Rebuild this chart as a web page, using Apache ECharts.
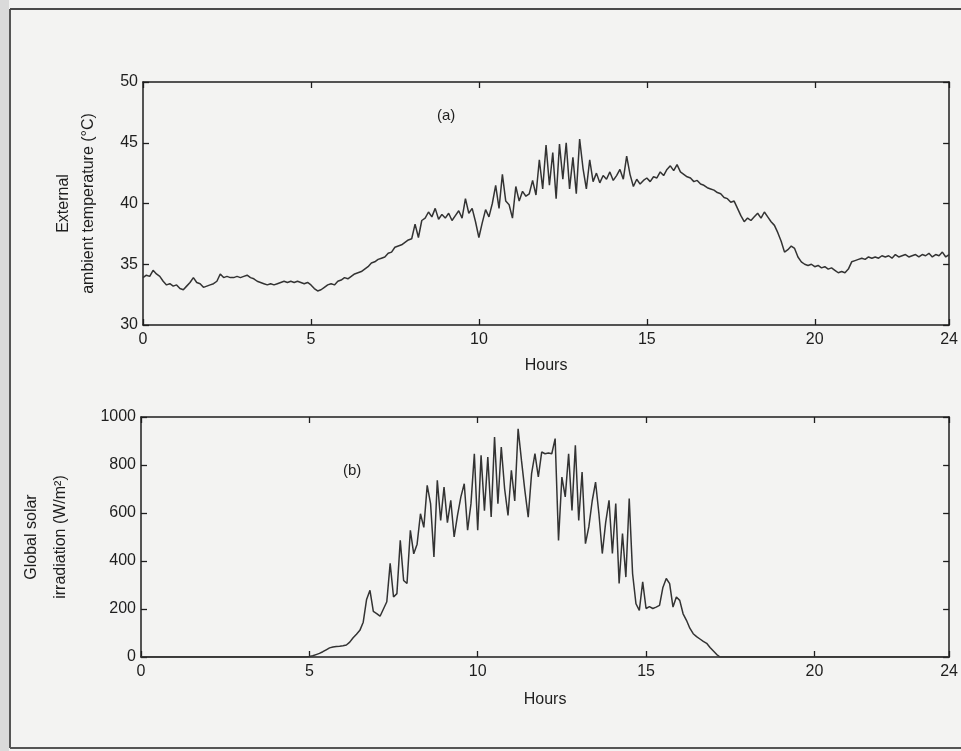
<!DOCTYPE html>
<html><head><meta charset="utf-8">
<script src="https://cdn.jsdelivr.net/npm/echarts@6/dist/echarts.min.js"></script>
<style>html,body{margin:0;padding:0;background:#f3f3f2;} #c{width:961px;height:751px;}</style>
</head><body><div id="c"></div>
<script>
// sampling step of both records (hours)
const hourStep = 0.1;

// (a) External ambient temperature (°C), h = 0.0 ... 24.0
const tempValues = [
 33.9, 34.1, 34.0, 34.5, 34.2, 34.0, 33.6, 33.3, 33.4, 33.2, 33.3,
 33.0, 32.9, 33.2, 33.5, 33.9, 33.5, 33.4, 33.1, 33.2, 33.3,
 33.4, 33.6, 34.2, 33.9, 34.0, 33.9, 33.9, 34.0, 33.9, 34.0,
 34.1, 33.9, 33.8, 33.6, 33.5, 33.4, 33.3, 33.4, 33.3, 33.4,
 33.5, 33.6, 33.5, 33.6, 33.5, 33.6, 33.5, 33.4, 33.5, 33.3,
 33.0, 32.8, 32.9, 33.1, 33.3, 33.4, 33.3, 33.6, 33.7, 33.9,
 33.8, 34.0, 34.2, 34.3, 34.4, 34.6, 34.8, 35.1, 35.2, 35.4,
 35.5, 35.6, 35.9, 36.0, 36.4, 36.5, 36.6, 36.8, 37.0, 37.1,
 38.3, 37.2, 38.6, 38.8, 39.3, 38.9, 39.6, 38.7, 39.1, 38.8,
 39.2, 38.6, 39.0, 39.4, 38.8, 40.4, 39.2, 39.6, 38.5, 37.2,
 38.4, 39.5, 38.9, 40.0, 41.5, 39.6, 42.4, 40.2, 39.9, 38.8,
 41.4, 40.2, 41.0, 40.6, 40.8, 41.9, 40.7, 43.6, 41.2, 44.8,
 41.5, 44.2, 40.4, 44.9, 42.0, 45.0, 41.2, 43.8, 40.8, 45.3,
 42.9, 41.2, 43.6, 41.8, 42.5, 41.7, 42.3, 42.0, 42.6, 41.9,
 42.3, 42.8, 42.0, 43.9, 42.4, 41.4, 42.0, 41.6, 41.9, 42.1,
 41.8, 42.2, 42.1, 42.6, 42.3, 42.8, 43.1, 42.7, 43.2, 42.6,
 42.4, 42.2, 42.1, 41.8, 41.9, 41.6, 41.5, 41.3, 41.2, 41.1,
 40.9, 40.8, 40.5, 40.4, 40.1, 40.2, 39.6, 39.0, 38.5, 38.8,
 38.6, 38.9, 39.2, 38.8, 39.3, 38.9, 38.5, 38.2, 37.6, 36.9,
 36.0, 36.2, 36.5, 36.3, 35.6, 35.2, 35.0, 34.9, 35.0, 34.8,
 34.9, 34.7, 34.8, 34.6, 34.7, 34.5, 34.3, 34.4, 34.3, 34.6,
 35.2, 35.3, 35.4, 35.5, 35.4, 35.6, 35.5, 35.6, 35.5, 35.7,
 35.6, 35.7, 35.5, 35.8, 35.6, 35.7, 35.8, 35.6, 35.7, 35.8,
 35.6, 35.8, 35.7, 35.9, 35.6, 35.8, 35.7, 36.0, 35.6, 35.8
];

// (b) Global solar irradiation (W/m²), h = 0.0 ... 24.0
const irradValues = [
 0, 0, 0, 0, 0, 0, 0, 0, 0, 0,
 0, 0, 0, 0, 0, 0, 0, 0, 0, 0,
 0, 0, 0, 0, 0, 0, 0, 0, 0, 0,
 0, 0, 0, 0, 0, 0, 0, 0, 0, 0,
 0, 0, 0, 0, 0, 0, 0, 0, 0, 0,
 2, 5, 10, 15, 22, 30, 38, 42, 44, 45,
 47, 50, 62, 80, 95, 111, 145, 240, 278, 190,
 181, 170, 200, 230, 390, 250, 264, 486, 319, 306,
 528, 430, 470, 597, 540, 715, 639, 417, 736, 569,
 708, 560, 653, 500, 590, 667, 722, 528, 639, 847,
 528, 840, 610, 833, 583, 917, 639, 875, 700, 590,
 778, 650, 951, 819, 694, 583, 764, 847, 750, 854,
 847, 850, 847, 910, 486, 750, 667, 847, 611, 882,
 569, 771, 472, 542, 650, 729, 597, 431, 560, 653,
 431, 639, 306, 514, 333, 660, 347, 222, 194, 313,
 202, 210, 202, 208, 215, 290, 327, 306, 208, 250,
 236, 180, 153, 120, 97, 85, 75, 65, 57, 40,
 25, 10, 0, 0, 0, 0, 0, 0, 0, 0,
 0, 0, 0, 0, 0, 0, 0, 0, 0, 0,
 0, 0, 0, 0, 0, 0, 0, 0, 0, 0,
 0, 0, 0, 0, 0, 0, 0, 0, 0, 0,
 0, 0, 0, 0, 0, 0, 0, 0, 0, 0,
 0, 0, 0, 0, 0, 0, 0, 0, 0, 0,
 0, 0, 0, 0, 0, 0, 0, 0, 0, 0,
 0
];

const xName = 'Hours';
const tempName = 'External\nambient temperature (°C)';
const irradName = 'Global solar\nirradiation (W/m²)';
const panelA = '(a)';
const panelB = '(b)';

const toPairs = vals => vals.map((v, i) => [+(i * hourStep).toFixed(1), v]);

const FONT = 'Liberation Sans, Arial, sans-serif';
const INK = '#1e1e1e';

function xAxis(grid, position, labels, nameGap) {
  return {
    type: 'value', gridIndex: grid, position: position,
    min: 0, max: 24, interval: 5,
    name: labels ? xName : '', nameLocation: 'middle', nameGap: nameGap,
    nameTextStyle: { fontFamily: FONT, fontSize: 16, color: INK },
    axisLine: { show: true, onZero: false, lineStyle: { color: INK, width: 1.5 } },
    axisTick: { show: true, inside: true, length: 6, lineStyle: { color: INK, width: 1.3 } },
    axisLabel: { show: labels, fontFamily: FONT, fontSize: 16, color: INK, margin: 7, showMaxLabel: true },
    splitLine: { show: false }
  };
}
function yAxis(grid, position, labels, min, max, interval, name, nameGap, lh) {
  return {
    type: 'value', gridIndex: grid, position: position,
    min: min, max: max, interval: interval,
    name: labels ? name : '', nameLocation: 'middle', nameGap: nameGap, nameRotate: 90,
    nameTextStyle: { fontFamily: FONT, fontSize: 16, color: INK, lineHeight: lh, align: 'center' },
    axisLine: { show: true, onZero: false, lineStyle: { color: INK, width: 1.5 } },
    axisTick: { show: true, inside: true, length: 6, lineStyle: { color: INK, width: 1.3 } },
    axisLabel: { show: labels, fontFamily: FONT, fontSize: 16, color: INK, margin: 5,
                 formatter: v => String(v) },
    splitLine: { show: false }
  };
}

const chart = echarts.init(document.getElementById('c'), null, { renderer: 'canvas' });
chart.setOption({
  backgroundColor: '#f3f3f2',
  animation: false,
  grid: [
    { left: 143, top: 82, width: 810, height: 243 },
    { left: 141, top: 417, width: 810, height: 240 }
  ],
  xAxis: [
    xAxis(0, 'bottom', true, 33),
    xAxis(0, 'top', false, 0),
    xAxis(1, 'bottom', true, 35),
    xAxis(1, 'top', false, 0)
  ],
  yAxis: [
    yAxis(0, 'left', true, 30, 50, 5, tempName, 42, 25),
    yAxis(0, 'right', false, 30, 50, 5, '', 0, 20),
    yAxis(1, 'left', true, 0, 1000, 200, irradName, 66, 29),
    yAxis(1, 'right', false, 0, 1000, 200, '', 0, 20)
  ],
  series: [
    {
      type: 'line', xAxisIndex: 0, yAxisIndex: 0, data: toPairs(tempValues),
      showSymbol: false, lineStyle: { color: '#333', width: 1.5 }
    },
    {
      type: 'line', xAxisIndex: 2, yAxisIndex: 2, data: toPairs(irradValues),
      showSymbol: false, lineStyle: { color: '#333', width: 1.5 }
    }
  ],
  graphic: [
    { type: 'rect', shape: { x: 0, y: 0, width: 9, height: 751 }, style: { fill: '#dadada' }, silent: true },
    { type: 'line', shape: { x1: 10, y1: 9, x2: 10, y2: 748 }, style: { stroke: '#555', lineWidth: 2 }, silent: true },
    { type: 'line', shape: { x1: 10, y1: 9, x2: 961, y2: 9 }, style: { stroke: '#4a4a4a', lineWidth: 2 }, silent: true },
    { type: 'line', shape: { x1: 10, y1: 748, x2: 961, y2: 748 }, style: { stroke: '#555', lineWidth: 2 }, silent: true },
    { type: 'text', left: 437, top: 108, style: { text: panelA, font: '15px ' + FONT, fill: INK }, silent: true },
    { type: 'text', left: 343, top: 463, style: { text: panelB, font: '15px ' + FONT, fill: INK }, silent: true }
  ]
});
</script>
</body></html>
